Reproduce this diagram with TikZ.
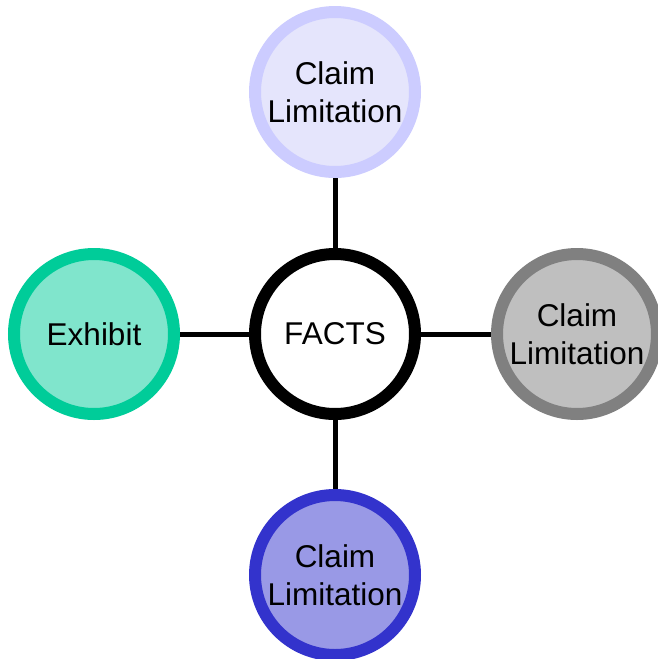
\documentclass[tikz,border=0pt]{standalone}
\usepackage{fontspec}
\setmainfont{Liberation Sans}
\usepackage{tikz}
\definecolor{lavender}{RGB}{204, 204, 255}
\definecolor{lavenderfill}{RGB}{229, 229, 252}
\definecolor{ash}{RGB}{128, 128, 128}
\definecolor{ashfill}{RGB}{191, 191, 191}
\definecolor{indigo}{RGB}{51, 51, 204}
\definecolor{indigofill}{RGB}{153, 153, 230}
\definecolor{mint}{RGB}{0, 204, 153}
\definecolor{mintfill}{RGB}{128, 229, 204}
\tikzset{
    bubble/.style={circle, minimum size=160pt, line width=12pt, inner sep=0pt,
                   align=center, font=\fontsize{31.5}{38}\selectfont},
    spoke/.style={line width=5pt, black}
}

\begin{document}
\begin{tikzpicture}[x=1pt, y=-1pt]
            % Frame to fix the page size:
            \useasboundingbox                                       (0, 0) rectangle (657, 659);
            % Hub & outer circles
            \node[bubble, draw=black,    fill=white]          (facts) at (335, 334) {FACTS};
            \node[bubble, draw=lavender, fill=lavenderfill]   (top)   at (335,  92) {Claim\\Limitation};
            \node[bubble, draw=ash,      fill=ashfill]        (right) at (577, 334) {Claim\\Limitation};
            \node[bubble, draw=indigo,   fill=indigofill]     (down)  at (335, 575) {Claim\\Limitation};
            \node[bubble, draw=mint,     fill=mintfill]       (left)  at ( 94, 334) {Exhibit};
            % Spokes
            \draw[spoke] (facts) -- (top);
            \draw[spoke] (facts) -- (right);
            \draw[spoke] (facts) -- (down);
            \draw[spoke] (facts) -- (left);
        \end{tikzpicture}
\end{document}
